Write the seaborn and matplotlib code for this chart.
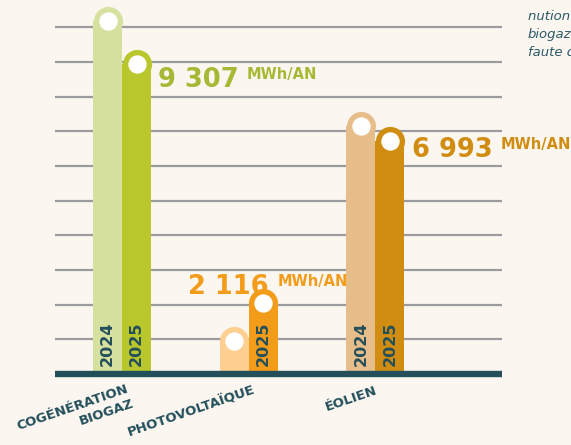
import matplotlib
matplotlib.use('Agg')
import matplotlib.pyplot as plt
import numpy as np
import pandas as pd
import seaborn as sns

# data
categories = ['COGÉNÉRATION\nBIOGAZ', 'PHOTOVOLTAÏQUE', 'ÉOLIEN']
years = ['2024', '2025']
values_2024 = [10600, 1000, 7450]   # estimated, no label in the picture
values_2025 = [9307, 2116, 6993]
value_labels = ['9 307', '2 116', '6 993']
unit = 'MWh/AN'
grid_step = 1040
n_grid = 10

colors_2024 = ['#d6e1a0', '#fdcf90', '#e7be8a']
colors_2025 = ['#b9c62c', '#f39c1a', '#d18d11']
label_colors = ['#a5b935', '#f39c1a', '#d18d11']
teal = '#234f5b'
bg = '#fbf6f0'

df = pd.DataFrame({
    'category': categories * 2,
    'year': [years[0]] * 3 + [years[1]] * 3,
    'value': values_2024 + values_2025,
})

sns.set_style('white')
fig = plt.figure(figsize=(5.71, 4.45), dpi=100, facecolor=bg)
ax = fig.add_axes([55 / 571, (445 - 374) / 445, 447 / 571, 374 / 445])
ax.set_facecolor(bg)

sns.barplot(data=df, x='category', y='value', hue='year', width=0.46, gap=0,
            saturation=1, linewidth=0, legend=False, ax=ax, zorder=2)

ax.set_xlim(-0.53, 3.0)
ax.set_ylim(0, 374 * 30)
ax.set_yticks(np.arange(1, n_grid + 1) * grid_step)
ax.grid(axis='y', color='#9b9b9f', linewidth=1.6, zorder=0)
ax.set_axisbelow(True)
ax.tick_params(length=0, labelleft=False, labelbottom=False)
ax.set_xlabel('')
ax.set_ylabel('')
for s in ax.spines.values():
    s.set_visible(False)

# baseline
ax.axhline(0, color=teal, linewidth=4.6, zorder=6, clip_on=False, solid_capstyle='butt')

# colours per bar, rounded caps, white dots, year labels
fig.canvas.draw()
for yi, (cont, cols) in enumerate(zip(ax.containers, [colors_2024, colors_2025])):
    for bar, col in zip(cont, cols):
        bar.set_facecolor(col)
        cx = bar.get_x() + bar.get_width() / 2
        top = bar.get_height()
        x0 = ax.transData.transform((bar.get_x(), 0))[0]
        x1 = ax.transData.transform((bar.get_x() + bar.get_width(), 0))[0]
        d_pt = (x1 - x0) * 72 / fig.dpi
        ax.scatter([cx], [top], s=d_pt ** 2, color=col, linewidths=0, zorder=3)
        ax.scatter([cx], [top], s=(d_pt * 0.63) ** 2, color='white', linewidths=0, zorder=4)
        if top > 2000:
            ax.text(cx, 250, years[yi], rotation=90, ha='center', va='bottom',
                    fontsize=11.5, fontweight='bold', color=teal, zorder=5)

# value labels next to 2025 bars
offsets = [(15, -17), (-54, 7), (16, -11.5)]
for i, bar in enumerate(ax.containers[1]):
    cx = bar.get_x() + bar.get_width() / 2
    big = ax.annotate(value_labels[i], xy=(cx, bar.get_height()), xytext=offsets[i],
                      textcoords='offset points', ha='left', va='baseline',
                      fontsize=18.5, fontweight='bold', color=label_colors[i], zorder=7)
    ax.annotate(unit, xy=(1, 1), xycoords=big, xytext=(6, 0), textcoords='offset points',
                ha='left', va='top', fontsize=10.5, fontweight='bold',
                color=label_colors[i], zorder=7)

# category labels
cat_offsets = [(9.5, -6), (5.8, -7), (2.5, -7)]
for i, cat in enumerate(categories):
    ax.annotate(cat, xy=(i, 0), xytext=cat_offsets[i], textcoords='offset points',
                rotation=19, ha='right', va='top', multialignment='right',
                fontsize=9.5, fontweight='bold', color=teal, linespacing=1.3)

# cut-off note from the neighbouring panel
for k, line in enumerate(['nution du', 'biogaz', 'faute de']):
    fig.text(528 / 571, 1 - (20 + 18 * k) / 445, line, ha='left', va='baseline',
             fontsize=9.5, style='italic', color='#2b5966')

fig.savefig('out.png', dpi=100, facecolor=bg)
